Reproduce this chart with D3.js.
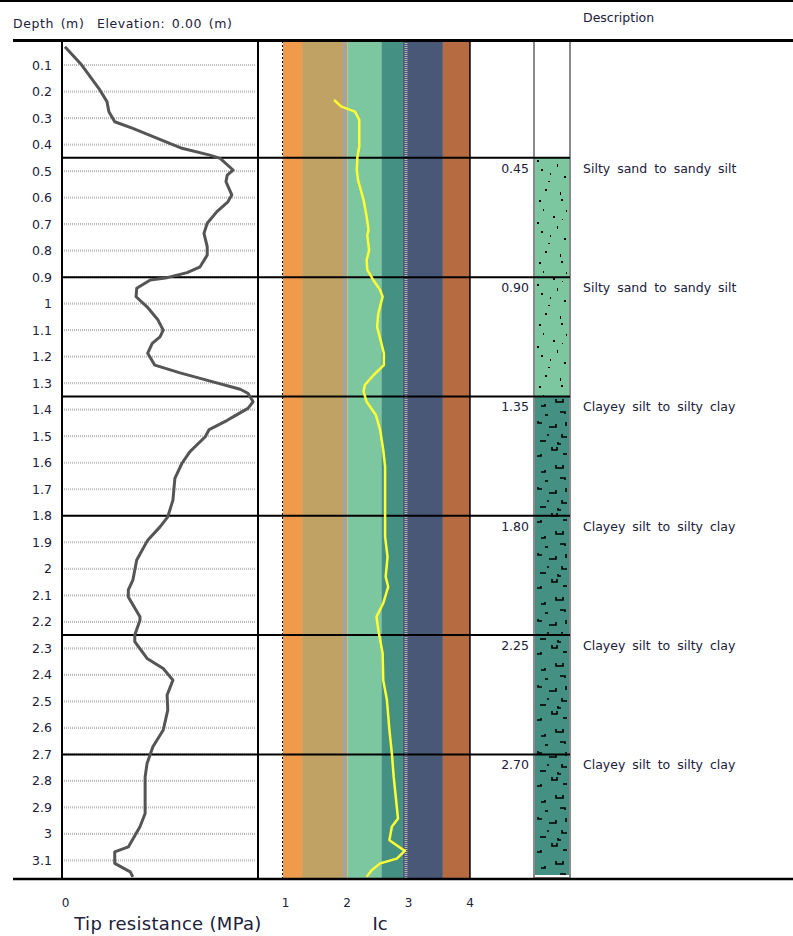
<!DOCTYPE html>
<html><head><meta charset="utf-8">
<script src="https://cdn.jsdelivr.net/npm/d3@7/dist/d3.min.js"></script>
<style>
html,body{margin:0;padding:0;background:#fff;}
svg{display:block;}
text{font-family:"DejaVu Sans",Verdana,sans-serif;fill:#20203a;}
</style></head>
<body>
<svg id="chart" width="793" height="936"></svg>
<script>
// ---------- DATA ----------
const depthTicks = [0.1,0.2,0.3,0.4,0.5,0.6,0.7,0.8,0.9,1,1.1,1.2,1.3,1.4,1.5,1.6,1.7,1.8,1.9,2,2.1,2.2,2.3,2.4,2.5,2.6,2.7,2.8,2.9,3,3.1];
const tipTicks = [0];
const icTicks = [1,2,3,4];

const tipDepth = [0.031,0.10,0.144,0.194,0.238,0.276,0.314,0.339,0.376,0.414,0.44,0.452,0.496,0.515,0.54,0.59,0.616,0.653,0.697,0.735,0.785,0.817,0.861,0.883,0.902,0.911,0.942,0.974,1.012,1.062,1.10,1.125,1.15,1.187,1.232,1.261,1.295,1.323,1.338,1.37,1.395,1.427,1.44,1.475,1.502,1.559,1.602,1.659,1.741,1.804,1.842,1.892,1.967,2.043,2.08,2.106,2.181,2.194,2.25,2.275,2.338,2.376,2.42,2.476,2.533,2.608,2.671,2.734,2.785,2.91,2.923,2.973,3.049,3.068,3.111,3.143,3.162];
const tipValue = [0.03,0.29,0.42,0.57,0.68,0.71,0.80,1.08,1.45,1.84,2.27,2.43,2.63,2.54,2.52,2.61,2.55,2.38,2.23,2.18,2.23,2.23,2.12,1.92,1.61,1.35,1.14,1.13,1.30,1.47,1.55,1.50,1.38,1.31,1.42,1.81,2.32,2.74,2.86,2.94,2.86,2.63,2.54,2.26,2.20,1.96,1.84,1.73,1.70,1.62,1.50,1.31,1.14,1.08,1.01,1.01,1.19,1.19,1.11,1.11,1.30,1.55,1.70,1.61,1.62,1.55,1.39,1.30,1.27,1.27,1.27,1.19,1.01,0.80,0.80,1.04,1.08];

const icDepth = [0.232,0.257,0.276,0.307,0.408,0.446,0.496,0.534,0.609,0.672,0.722,0.741,0.798,0.836,0.873,0.911,0.949,0.974,1.037,1.087,1.15,1.187,1.232,1.27,1.307,1.332,1.37,1.42,1.477,1.552,1.615,1.728,1.879,1.955,2.03,2.068,2.13,2.181,2.231,2.319,2.42,2.495,2.608,2.696,2.785,2.942,2.973,3.024,3.064,3.093,3.111,3.137,3.162];
const icValue = [1.83,1.95,2.17,2.24,2.24,2.21,2.20,2.22,2.31,2.36,2.39,2.37,2.40,2.36,2.37,2.47,2.58,2.62,2.55,2.53,2.60,2.64,2.64,2.47,2.33,2.31,2.36,2.51,2.58,2.63,2.66,2.66,2.66,2.70,2.67,2.71,2.63,2.52,2.55,2.62,2.63,2.69,2.73,2.77,2.80,2.87,2.77,2.73,2.98,2.85,2.58,2.44,2.36];

const zoneBounds = [1, 1.31, 2.05, 2.6, 2.95, 3.6, 4.04];
const zoneColors = ["#ef9b4b","#c0a265","#7cc6a0","#449183","#4a5878","#b76b41"];

const layerTops = [0.45, 0.90, 1.35, 1.80, 2.25, 2.70];
const layerBottoms = [0.90, 1.35, 1.80, 2.25, 2.70, 3.155];
const layerDesc = ["Silty sand to sandy silt","Silty sand to sandy silt","Clayey silt to silty clay","Clayey silt to silty clay","Clayey silt to silty clay","Clayey silt to silty clay"];
const layerPattern = ["sand","sand","clay","clay","clay","clay"];

const depthMax = 3.17;

// ---------- DRAW ----------
const svg = d3.select("#chart");
const W = 793;
const topY = 41, botY = 879;

const y = d3.scaleLinear().domain([0, depthMax]).range([38.5, botY]);
const xTip = d3.scaleLinear().domain([0, 3]).range([63, 257]);
const xIc = d3.scaleLinear().domain([1, 4]).range([283, 467.5]);

// patterns
const defs = svg.append("defs");
const sp = defs.append("pattern").attr("id","sand").attr("patternUnits","userSpaceOnUse")
  .attr("width",34).attr("height",62).attr("x",536).attr("y",0);
sp.append("rect").attr("width",34).attr("height",62).attr("fill","#7cc6a0");
[[9,3,2,2],[24,6,1,3],[3,14,2,2],[25,13,2,2],[7,23,1,2],[17,30,2,2],[5,45,2,2],[14,49,1,2],[28,52,2,2],[21,40,1,3],[30,24,1,2],[12,57,2,1],[26,33,1,1],[1,36,2,2]]
  .forEach(r=>sp.append("rect").attr("x",r[0]).attr("y",r[1]).attr("width",r[2]).attr("height",r[3]).attr("fill","#000"));
const cp = defs.append("pattern").attr("id","clay").attr("patternUnits","userSpaceOnUse")
  .attr("width",34).attr("height",66).attr("x",536).attr("y",0);
cp.append("rect").attr("width",34).attr("height",66).attr("fill","#449183");
["M20 3v3h7v-3","M5 10h4v-2","M24 16h5v2","M2 25v2h4","M13 31h7v-3","M26 38v3h5","M4 45h6","M16 51v3h5v-3","M27 58h4","M9 19h3","M1 60h4v-2","M30 26v4","M11 39h2","M22 46v2h3"]
  .forEach(d=>cp.append("path").attr("d",d).attr("fill","none").attr("stroke","#000").attr("stroke-width",1.6));

// Ic zone bands
const gIc = svg.append("g");
gIc.selectAll("rect.zone").data(zoneColors).join("rect")
  .attr("x",(c,i)=>xIc(zoneBounds[i]))
  .attr("width",(c,i)=>xIc(zoneBounds[i+1])-xIc(zoneBounds[i]))
  .attr("y",topY).attr("height",botY-topY).attr("fill",c=>c);
// Ic grid lines
gIc.append("line").attr("x1",xIc(2)).attr("x2",xIc(2)).attr("y1",topY).attr("y2",botY)
  .attr("stroke","#a3a3a3").attr("stroke-width",3);
gIc.append("line").attr("x1",xIc(3)).attr("x2",xIc(3)).attr("y1",topY).attr("y2",botY)
  .attr("stroke","#b4b4b4").attr("stroke-width",3).attr("stroke-dasharray","1,1");
gIc.append("line").attr("x1",xIc(1)-0.5).attr("x2",xIc(1)-0.5).attr("y1",topY).attr("y2",botY)
  .attr("stroke","#000").attr("stroke-width",1).attr("stroke-dasharray","2,2");
gIc.append("line").attr("x1",xIc(4.04)).attr("x2",xIc(4.04)).attr("y1",topY).attr("y2",botY)
  .attr("stroke","#000").attr("stroke-width",1.5);

// Tip resistance grid
const gTip = svg.append("g");
gTip.selectAll("line.grid").data(depthTicks).join("line")
  .attr("x1",64).attr("x2",255).attr("y1",d=>y(d)).attr("y2",d=>y(d))
  .attr("stroke","#bcbcbc").attr("stroke-width",2.2).attr("stroke-dasharray","1,1");

// Depth axis labels
const depthAxis = d3.axisLeft(y).tickValues(depthTicks).tickSize(0).tickPadding(10)
  .tickFormat(d=>String(+d.toFixed(1)));
const ga = svg.append("g").attr("transform","translate(62,0)").call(depthAxis);
ga.select(".domain").remove();
ga.selectAll("text").style("font-size","12.5px").style("fill","#20203a").style("font-family","'DejaVu Sans',sans-serif");

// Pattern column
const colX = 535, colW = 34;
svg.selectAll("rect.layer").data(layerTops).join("rect")
  .attr("x",colX).attr("width",colW)
  .attr("y",d=>y(d)).attr("height",(d,i)=>y(layerBottoms[i])-y(d))
  .attr("fill",(d,i)=>"url(#"+layerPattern[i]+")");
svg.append("rect").attr("x",colX-1).attr("y",topY).attr("width",colW+2).attr("height",botY-topY-1)
  .attr("fill","none").attr("stroke","#8a8a8a").attr("stroke-width",2);

// Layer boundary lines
svg.selectAll("line.layer").data(layerTops).join("line")
  .attr("x1",62).attr("x2",570).attr("y1",d=>y(d)).attr("y2",d=>y(d))
  .attr("stroke","#000").attr("stroke-width",2);

// layer depth labels and descriptions
svg.selectAll("text.ld").data(layerTops).join("text")
  .attr("x",529).attr("y",d=>y(d)+15).attr("text-anchor","end")
  .style("font-size","12.5px").text(d=>d.toFixed(2));
svg.selectAll("text.desc").data(layerDesc).join("text")
  .attr("x",583).attr("y",(d,i)=>y(layerTops[i])+15)
  .style("font-size","12.5px").style("word-spacing","3px").text(d=>d);

// Tip frame
svg.append("line").attr("x1",62).attr("x2",62).attr("y1",topY).attr("y2",botY).attr("stroke","#000").attr("stroke-width",2);
svg.append("line").attr("x1",258).attr("x2",258).attr("y1",topY).attr("y2",botY).attr("stroke","#000").attr("stroke-width",2);

// Curves
const tipLine = d3.line().x(d=>xTip(d[1])).y(d=>y(d[0])).curve(d3.curveLinear);
svg.append("path").datum(tipDepth.map((d,i)=>[d,tipValue[i]]))
  .attr("d",tipLine).attr("fill","none").attr("stroke","#555555").attr("stroke-width",3).attr("stroke-linejoin","round");
const icLine = d3.line().x(d=>xIc(d[1])).y(d=>y(d[0]));
svg.append("path").datum(icDepth.map((d,i)=>[d,icValue[i]]))
  .attr("d",icLine).attr("fill","none").attr("stroke","#ffff33").attr("stroke-width",2.5).attr("stroke-linejoin","round");

// Header / footer rules
svg.append("line").attr("x1",0).attr("x2",W).attr("y1",1).attr("y2",1).attr("stroke","#000").attr("stroke-width",2);
svg.append("line").attr("x1",13).attr("x2",W).attr("y1",topY-0.5).attr("y2",topY-0.5).attr("stroke","#000").attr("stroke-width",3);
svg.append("line").attr("x1",13).attr("x2",W).attr("y1",botY).attr("y2",botY).attr("stroke","#000").attr("stroke-width",2.5);

// Header texts
svg.append("text").attr("x",13).attr("y",28).style("font-size","12.5px").style("letter-spacing","0.6px").style("word-spacing","2px").text("Depth (m)");
svg.append("text").attr("x",97).attr("y",28).style("font-size","12.5px").style("letter-spacing","0.6px").style("word-spacing","2px").text("Elevation: 0.00 (m)");
svg.append("text").attr("x",583).attr("y",22).style("font-size","12.5px").text("Description");

// Bottom axes
const tipAxis = d3.axisBottom(xTip).tickValues(tipTicks).tickSize(0).tickPadding(19).tickFormat(d3.format("d"));
const gt = svg.append("g").attr("transform","translate(2,"+botY+")").call(tipAxis);
gt.select(".domain").remove();
gt.selectAll("text").style("font-size","12px").style("fill","#20203a").style("font-family","'DejaVu Sans',sans-serif");
const icAxis = d3.axisBottom(xIc).tickValues(icTicks).tickSize(0).tickPadding(19).tickFormat(d3.format("d"));
const gi = svg.append("g").attr("transform","translate(2,"+botY+")").call(icAxis);
gi.select(".domain").remove();
gi.selectAll("text").style("font-size","12px").style("fill","#20203a").style("font-family","'DejaVu Sans',sans-serif");

svg.append("text").attr("x",168).attr("y",930).attr("text-anchor","middle").style("font-size","18px").style("letter-spacing","0.3px").text("Tip resistance (MPa)");
svg.append("text").attr("x",380).attr("y",930).attr("text-anchor","middle").style("font-size","18px").text("Ic");
</script>
</body></html>
